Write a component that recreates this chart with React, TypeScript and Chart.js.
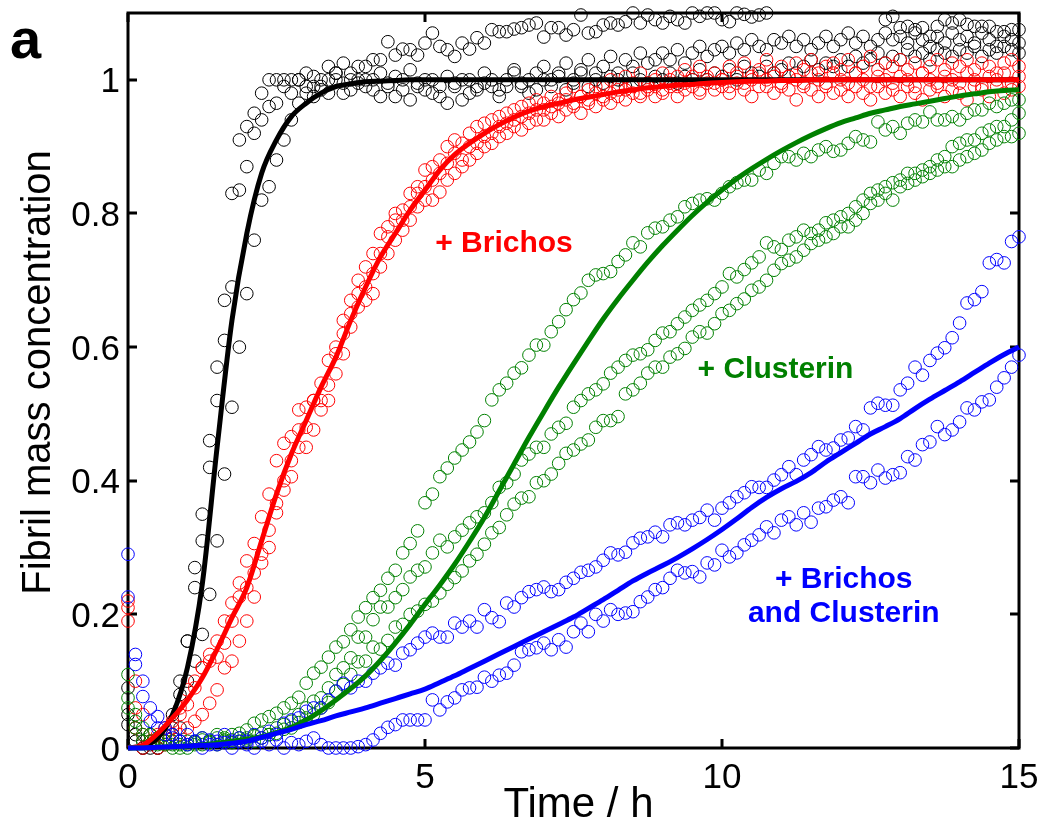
import React, { useEffect, useRef } from "react";
import { Chart, registerables } from "chart.js";

Chart.register(...registerables);

// ---- axes ----
const SAMPLE_STEP_H = 0.125; // measurement interval (h)
const FIT_STEP_H = 0.25; // fitted curve grid (h)
const X_TICKS = [0, 5, 10, 15];
const X_TICK_LABELS = ["0", "5", "10", "15"];
const Y_TICKS = [0, 0.2, 0.4, 0.6, 0.8, 1];
const Y_TICK_LABELS = ["0", "0.2", "0.4", "0.6", "0.8", "1"];
const X_TITLE = "Time / h";
const Y_TITLE = "Fibril mass concentration";
const PANEL_LABEL = "a";

// ---- colours ----
const BLACK = "#000000";
const RED = "#ff0000";
const GREEN = "#008000";
const BLUE = "#0000ff";

// ---- data: no chaperone (black) ----
const BLACK_REP1 = [
  0.09, 0.03, 0.01, 0.0, 0.01, 0.02, 0.05, 0.1,
  0.16, 0.27, 0.35, 0.46, 0.57, 0.67, 0.83, 0.91,
  0.93, 0.95, 0.98, 1.0, 1.0, 0.99, 1.0, 1.0,
  1.01, 0.99, 1.0, 1.02, 1.01, 1.025, 1.01, 1.02,
  1.02, 1.03, 1.03, 1.057, 1.037, 1.046, 1.045, 1.037,
  1.055, 1.07, 1.05, 1.045, 1.035, 1.055, 1.046, 1.063,
  1.055, 1.075, 1.072, 1.072, 1.076, 1.078, 1.082, 1.085,
  1.064, 1.078, 1.078, 1.067, 1.075, 1.097, 1.07, 1.072,
  1.082, 1.085, 1.082, 1.087, 1.1, 1.085, 1.097, 1.09,
  1.085, 1.095, 1.09, 1.085, 1.1, 1.095, 1.1, 1.1,
  1.09, 1.087, 1.1, 1.098, 1.094, 1.097, 1.1, null,
  null, null, null, null, null, null, null, null,
  null, null, null, null, null, null, 1.09, 1.095,
  1.078, 1.08, 1.075, 1.078, 1.065, 1.08, 1.09, 1.085,
  1.09, 1.083, 1.08, 1.08, 1.08, 1.072, 1.072, 1.075,
  1.075,
];
const BLACK_REP2 = [
  0.05, 0.02, 0.0, 0.01, 0.0, 0.02, 0.03, 0.08,
  0.16, 0.24, 0.31, 0.42, 0.52, 0.61, 0.69, 0.835,
  0.87, 0.92, 0.94, 0.96, 0.965, 1.0, 0.98, 1.0,
  0.99, 1.005, 0.985, 1.0, 1.01, 0.98, 1.0, 0.995,
  1.0, 0.985, 1.01, 0.99, 0.975, 1.0, 1.015, 0.99,
  0.985, 1.0, 0.975, 1.005, 0.99, 0.97, 1.0, 0.985,
  1.01, 0.99, 0.975, 1.0, 1.015, 0.995, 0.98, 1.01,
  1.02, 1.0, 1.01, 1.025, 0.995, 1.015, 1.03, 1.01,
  1.02, 1.035, 1.01, 1.03, 1.02, 1.04, 1.025, 1.03,
  1.04, 1.03, 1.045, 1.025, 1.04, 1.05, 1.035, 1.045,
  1.05, 1.04, 1.055, 1.045, 1.06, 1.05, 1.045, 1.06,
  1.055, 1.065, 1.05, 1.06, 1.045, 1.055, 1.065, 1.05,
  1.06, 1.07, 1.055, 1.065, 1.05, 1.06, 1.07, 1.06,
  1.065, 1.055, 1.07, 1.06, 1.05, 1.065, 1.055, 1.07,
  1.06, 1.065, 1.055, 1.07, 1.06, 1.05, 1.065, 1.06,
  1.055,
];
const BLACK_REP3 = [
  0.035, 0.01, 0.0, 0.005, 0.0, 0.01, 0.02, 0.03,
  0.1, 0.13, 0.17, 0.23, 0.31, 0.41, 0.51, 0.6,
  0.68, 0.76, 0.82, 0.84, 0.88, 0.91, 0.94, 0.965,
  0.98, 0.975, 0.99, 0.98, 1.0, 0.995, 0.985, 1.0,
  0.99, 1.0, 0.975, 0.995, 1.005, 0.985, 0.97, 0.995,
  1.0, 0.98, 0.99, 0.965, 0.995, 1.0, 0.98, 0.99,
  0.995, 1.0, 0.985, 0.99, 1.01, 0.99, 1.0, 0.985,
  1.0, 0.99, 1.005, 0.985, 1.0, 1.01, 0.99, 1.0,
  0.995, 1.005, 1.0, 0.99, 1.01, 1.0, 0.995, 1.005,
  1.0, 1.01, 0.995, 1.005, 1.0, 1.015, 1.0, 1.01,
  1.005, 1.015, 1.0, 1.02, 1.01, 1.005, 1.02, 1.01,
  1.015, 1.025, 1.01, 1.02, 1.03, 1.015, 1.025, 1.02,
  1.03, 1.02, 1.035, 1.025, 1.03, 1.04, 1.025, 1.035,
  1.03, 1.045, 1.035, 1.04, 1.03, 1.045, 1.04, 1.035,
  1.045, 1.04, 1.05, 1.035, 1.045, 1.04, 1.05, 1.045,
  1.04,
];
const BLACK_FIT = [
  0, 0.003, 0.015, 0.05, 0.12, 0.245, 0.45, 0.64,
  0.77, 0.86, 0.91, 0.945, 0.965, 0.98, 0.99, 0.994,
  0.997, 0.998, 0.999, 1, 1, 1, 1, 1,
  1, 1, 1, 1, 1, 1, 1, 1,
  1, 1, 1, 1, 1, 1, 1, 1,
  1, 1, 1, 1, 1, 1, 1, 1,
  1, 1, 1, 1, 1, 1, 1, 1,
  1, 1, 1, 1, 1,
];

// ---- data: + Brichos (red) ----
const RED_REP1 = [
  0.22, 0.1, 0.05, 0.02, 0.01, 0.03, 0.04, 0.06,
  0.087, 0.1, 0.12, 0.14, 0.16, 0.19, 0.217, 0.247,
  0.28, 0.306, 0.346, 0.38, 0.43, 0.456, 0.466, 0.506,
  0.51, 0.52, 0.546, 0.58, 0.6, 0.64, 0.67, 0.7,
  0.72, 0.74, 0.77, 0.78, 0.8, 0.805, 0.83, 0.84,
  0.865, 0.87, 0.88, 0.9, 0.91, 0.905, 0.92, 0.93,
  0.935, 0.94, 0.945, 0.95, 0.955, 0.96, 0.965, 0.97,
  0.965, 0.975, 0.97, 0.98, 0.99, 0.975, 0.985, 0.99,
  0.99, 1.0, 0.985, 1.005, 0.995, 1.01, 0.99, 1.0,
  1.01, 0.995, 1.005, 1.015, 1.0, 1.02, 1.005, 1.01,
  1.0, 1.02, 1.01, 1.025, 1.005, 1.015, 1.03, 1.01,
  1.02, 1.005, 1.025, 1.015, 1.03, 1.01, 1.02, 1.025,
  1.015, 1.03, 1.01, 1.02, 1.035, 1.015, 1.025, 1.02,
  1.03, 1.015, 1.025, 1.01, 1.02, 1.03, 1.015, 1.025,
  1.02, 1.03, 1.015, 1.025, 1.02, 1.01, 1.025, 1.03,
  1.02,
];
const RED_REP2 = [
  0.21, 0.06, 0.02, 0.01, 0.02, 0.01, 0.03, 0.05,
  0.065, 0.09, 0.12, 0.13, 0.136, 0.157, 0.19, 0.226,
  0.24, 0.262, 0.29, 0.326, 0.366, 0.4, 0.43, 0.476,
  0.48, 0.52, 0.52, 0.543, 0.59, 0.62, 0.65, 0.68,
  0.69, 0.71, 0.74, 0.765, 0.79, 0.79, 0.81, 0.83,
  0.84, 0.85, 0.86, 0.875, 0.89, 0.88, 0.9, 0.905,
  0.915, 0.92, 0.93, 0.935, 0.94, 0.945, 0.95, 0.955,
  0.955, 0.96, 0.965, 0.97, 0.965, 0.975, 0.97, 0.98,
  0.975, 0.98, 0.99, 0.985, 0.99, 0.98, 0.995, 0.99,
  0.985, 1.0, 0.99, 0.995, 1.005, 0.985, 1.0, 0.995,
  1.0, 0.99, 1.005, 0.995, 1.0, 1.01, 0.99, 1.005,
  0.995, 1.005, 1.0, 0.99, 1.01, 1.0, 0.995, 1.01,
  1.0, 0.995, 1.01, 1.0, 0.99, 1.005, 1.0, 0.995,
  1.005, 1.0, 0.99, 1.01, 1.0, 0.995, 1.005, 1.0,
  0.995, 1.01, 1.0, 0.99, 1.005, 1.0, 1.01, 0.995,
  1.005,
];
const RED_REP3 = [
  0.19, 0.03, 0.0, 0.01, 0.0, 0.005, 0.01, 0.02,
  0.03, 0.04, 0.05, 0.067, 0.087, 0.12, 0.13, 0.16,
  0.19, 0.226, 0.277, 0.3, 0.352, 0.386, 0.406, 0.45,
  0.45, 0.476, 0.506, 0.52, 0.56, 0.59, 0.63, 0.66,
  0.67, 0.68, 0.72, 0.74, 0.76, 0.775, 0.79, 0.81,
  0.82, 0.82, 0.832, 0.85, 0.86, 0.87, 0.88, 0.89,
  0.9, 0.905, 0.915, 0.92, 0.93, 0.925, 0.935, 0.94,
  0.94, 0.95, 0.945, 0.955, 0.96, 0.95, 0.965, 0.96,
  0.97, 0.965, 0.975, 0.97, 0.98, 0.975, 0.985, 0.975,
  0.98, 0.99, 0.975, 0.985, 0.99, 0.98, 0.995, 0.985,
  0.99, 0.98, 0.995, 0.985, 0.975, 0.99, 1.0, 0.98,
  0.99, 0.985, 0.97, 0.995, 0.985, 0.975, 0.99, 0.98,
  0.985, 0.975, 0.99, 0.98, 0.97, 0.99, 0.98, 0.985,
  0.975, 0.99, 0.98, 0.97, 0.985, 0.99, 0.975, 0.985,
  0.98, 0.97, 0.99, 0.985, 0.975, 0.99, 0.98, 0.985,
  0.99,
];
const RED_FIT = [
  0, 0.004, 0.022, 0.045, 0.072, 0.105, 0.148, 0.195,
  0.24, 0.31, 0.38, 0.44, 0.49, 0.54, 0.585, 0.64,
  0.69, 0.735, 0.77, 0.805, 0.835, 0.865, 0.888, 0.905,
  0.92, 0.933, 0.944, 0.953, 0.96, 0.965, 0.97, 0.974,
  0.978, 0.982, 0.985, 0.988, 0.99, 0.992, 0.993, 0.995,
  0.996, 0.997, 0.998, 0.998, 0.999, 0.999, 1, 1,
  1, 1, 1, 1, 1, 1, 1, 1,
  1, 1, 1, 1, 1,
];

// ---- data: + Clusterin (green) ----
const GREEN_REP1 = [
  0.11, 0.05, 0.03, 0.02, 0.01, 0.02, 0.005, 0.01,
  0.005, 0.01, 0.015, 0.01, 0.02, 0.015, 0.02, 0.022,
  0.027, 0.037, 0.042, 0.047, 0.052, 0.06, 0.067, 0.076,
  0.097, 0.112, 0.121, 0.136, 0.151, 0.159, 0.177, 0.196,
  0.21, 0.225, 0.236, 0.254, 0.266, 0.292, 0.306, 0.325,
  0.367, 0.38, 0.406, 0.419, 0.434, 0.446, 0.458, 0.473,
  0.49, 0.521, 0.536, 0.546, 0.561, 0.569, 0.588, 0.603,
  0.603, 0.623, 0.638, 0.656, 0.671, 0.681, 0.7, 0.708,
  0.71, 0.713, 0.728, 0.738, 0.756, 0.75, 0.771, 0.778,
  0.78, 0.79, 0.795, 0.81, 0.815, 0.82, 0.822, 0.82,
  0.83, 0.84, 0.846, 0.85, 0.85, 0.865, 0.86, 0.875,
  0.885, 0.885, 0.88, 0.89, 0.885, 0.895, 0.9, 0.893,
  0.895, 0.905, 0.915, 0.91, 0.907, 0.937, 0.925, 0.93,
  0.92, 0.935, 0.94, 0.937, 0.952, 0.94, 0.94, 0.945,
  0.94, 0.95, 0.955, 0.955, 0.965, 0.96, 0.965, 0.97,
  0.97,
];
const GREEN_REP2 = [
  0.075, 0.04, 0.02, 0.01, 0.015, 0.005, 0.01, 0.0,
  0.01, 0.005, 0.012, 0.008, 0.015, 0.01, 0.012, 0.015,
  0.015, 0.018, 0.022, 0.02, 0.03, 0.035, 0.04, 0.05,
  0.06, 0.07, 0.075, 0.09, 0.11, 0.12, 0.135, 0.166,
  0.166, 0.192, 0.211, 0.211, 0.225, 0.237, 0.256, 0.266,
  0.271, 0.292, 0.311, 0.301, 0.316, 0.326, 0.337, 0.346,
  0.352, 0.367, 0.39, 0.397, 0.41, 0.431, 0.44, 0.45,
  0.45, 0.47, 0.48, 0.486, 0.51, 0.52, 0.53, 0.536,
  0.545, 0.561, 0.57, 0.58, 0.588, 0.59, 0.596, 0.61,
  0.621, 0.623, 0.635, 0.645, 0.655, 0.663, 0.67, 0.68,
  0.69, 0.71, 0.705, 0.716, 0.726, 0.735, 0.756, 0.75,
  0.746, 0.76, 0.765, 0.775, 0.77, 0.775, 0.786, 0.79,
  0.795, 0.8, 0.81, 0.82, 0.83, 0.835, 0.84, 0.846,
  0.85, 0.86, 0.86, 0.865, 0.87, 0.88, 0.885, 0.9,
  0.905, 0.91, 0.91, 0.92, 0.925, 0.93, 0.93, 0.94,
  0.95,
];
const GREEN_REP3 = [
  0.06, 0.03, 0.01, 0.02, 0.005, 0.01, 0.0, 0.005,
  0.0, 0.008, 0.005, 0.01, 0.005, 0.012, 0.008, 0.01,
  0.012, 0.01, 0.015, 0.02, 0.022, 0.028, 0.03, 0.038,
  0.045, 0.05, 0.06, 0.068, 0.085, 0.095, 0.11, 0.129,
  0.13, 0.151, 0.148, 0.161, 0.181, 0.185, 0.2, 0.205,
  0.215, 0.22, 0.232, 0.245, 0.255, 0.265, 0.28, 0.29,
  0.305, 0.322, 0.33, 0.349, 0.365, 0.374, 0.376, 0.397,
  0.4, 0.41, 0.426, 0.441, 0.446, 0.455, 0.461, 0.48,
  0.49, 0.49, 0.496, 0.53, 0.536, 0.546, 0.561, 0.57,
  0.57, 0.585, 0.59, 0.598, 0.615, 0.623, 0.621, 0.635,
  0.65, 0.655, 0.665, 0.672, 0.685, 0.69, 0.7, 0.715,
  0.725, 0.73, 0.735, 0.745, 0.755, 0.76, 0.765, 0.77,
  0.78, 0.78, 0.79, 0.8, 0.815, 0.82, 0.83, 0.82,
  0.84, 0.845, 0.85, 0.855, 0.86, 0.865, 0.87, 0.87,
  0.88, 0.885, 0.89, 0.895, 0.905, 0.91, 0.915, 0.915,
  0.92,
];
const GREEN_FIT = [
  0, 0, 0.001, 0.002, 0.003, 0.005, 0.007, 0.01,
  0.013, 0.017, 0.023, 0.031, 0.042, 0.056, 0.072, 0.089,
  0.108, 0.131, 0.157, 0.185, 0.215, 0.244, 0.275, 0.309,
  0.345, 0.385, 0.425, 0.465, 0.503, 0.54, 0.575, 0.609,
  0.642, 0.672, 0.7, 0.727, 0.752, 0.775, 0.797, 0.817,
  0.835, 0.852, 0.867, 0.881, 0.894, 0.906, 0.917, 0.927,
  0.936, 0.943, 0.95, 0.955, 0.96, 0.964, 0.968, 0.972,
  0.976, 0.979, 0.982, 0.984, 0.985,
];

// ---- data: + Brichos and Clusterin (blue) ----
const BLUE_REP1 = [
  0.29, 0.14, 0.1, 0.06, 0.047, 0.03, 0.02, 0.01,
  0.02, 0.01, 0.015, 0.005, 0.01, 0.02, 0.01, 0.015,
  0.01, 0.02, 0.015, 0.025, 0.02, 0.037, 0.042, 0.045,
  0.055, 0.06, 0.06, 0.072, 0.085, 0.097, 0.09, 0.1,
  0.1, 0.112, 0.12, 0.127, 0.124, 0.142, 0.147, 0.157,
  0.166, 0.172, 0.166, 0.166, 0.187, 0.181, 0.19, 0.181,
  0.207, 0.195, 0.189, 0.217, 0.211, 0.225, 0.234, 0.237,
  0.241, 0.234, 0.237, 0.248, 0.254, 0.263, 0.266, 0.271,
  0.281, 0.292, 0.289, 0.293, 0.307, 0.314, 0.316, 0.323,
  0.316, 0.334, 0.337, 0.334, 0.341, 0.345, 0.356, 0.341,
  0.359, 0.367, 0.376, 0.382, 0.391, 0.39, 0.39, 0.401,
  0.409, 0.421, 0.409, 0.431, 0.439, 0.451, 0.446, 0.449,
  0.461, 0.464, 0.481, 0.476, 0.509, 0.516, 0.513, 0.513,
  0.536, 0.546, 0.57, 0.558, 0.58, 0.591, 0.599, 0.614,
  0.636, 0.666, 0.671, 0.683, 0.726, 0.731, 0.726, 0.758,
  0.765,
];
const BLUE_REP2 = [
  0.226, 0.125, 0.077, 0.04, 0.03, 0.02, 0.015, 0.01,
  0.005, 0.01, 0.0, 0.012, 0.005, 0.008, 0.0, 0.01,
  0.005, 0.0, 0.01, 0.005, 0.012, 0.0, 0.008, 0.005,
  0.01, 0.015, 0.005, 0.0, 0.0, 0.0, 0.0, 0.002,
  0.005, 0.012, 0.022, 0.031, 0.035, 0.042, 0.042, 0.042,
  0.042, 0.072, 0.057, 0.069, 0.075, 0.087, 0.09, 0.091,
  0.106, 0.1, 0.109, 0.112, 0.124, 0.144, 0.147, 0.15,
  0.157, 0.147, 0.162, 0.151, 0.174, 0.187, 0.174, 0.2,
  0.19, 0.207, 0.2, 0.202, 0.204, 0.219, 0.226, 0.237,
  0.24, 0.254, 0.266, 0.262, 0.264, 0.256, 0.277, 0.274,
  0.296, 0.286, 0.292, 0.304, 0.311, 0.319, 0.331, 0.322,
  0.341, 0.346, 0.334, 0.352, 0.338, 0.359, 0.361, 0.371,
  0.376, 0.367, 0.406, 0.406, 0.397, 0.416, 0.404, 0.409,
  0.412, 0.436, 0.431, 0.454, 0.458, 0.481, 0.469, 0.476,
  0.488, 0.509, 0.506, 0.518, 0.521, 0.54, 0.554, 0.57,
  0.588,
];
const BLUE_FIT = [
  0, 0, 0.001, 0.002, 0.003, 0.004, 0.005, 0.007,
  0.01, 0.016, 0.022, 0.028, 0.035, 0.041, 0.048, 0.054,
  0.06, 0.067, 0.074, 0.081, 0.088, 0.098, 0.108, 0.119,
  0.13, 0.141, 0.152, 0.163, 0.174, 0.185, 0.196, 0.209,
  0.222, 0.236, 0.25, 0.262, 0.273, 0.285, 0.298, 0.312,
  0.327, 0.343, 0.36, 0.375, 0.388, 0.399, 0.412, 0.428,
  0.442, 0.456, 0.47, 0.481, 0.493, 0.508, 0.522, 0.535,
  0.548, 0.562, 0.576, 0.589, 0.6,
];

// ---- in-plot labels (x in h, y in data units of the baseline) ----
const ANNOTATIONS = [
  { lines: ["+ Brichos"], color: RED, x: 6.33, y: 0.743 },
  { lines: ["+ Clusterin"], color: GREEN, x: 10.9, y: 0.554 },
  { lines: ["+ Brichos", "and Clusterin"], color: BLUE, x: 12.05, y: 0.24 },
];

const FONT = "'Liberation Sans', Arial, Helvetica, sans-serif";

function toPoints(values: (number | null)[], step: number) {
  const pts: { x: number; y: number }[] = [];
  values.forEach((v, i) => {
    if (v !== null) pts.push({ x: i * step, y: v });
  });
  return pts;
}

const framePlugin = {
  id: "matlabFrame",
  beforeDatasetsDraw(chart: any) {
    const { ctx, chartArea: a, scales } = chart;
    const xs = scales.x;
    const ys = scales.y;
    ctx.save();
    ctx.strokeStyle = "#000";
    ctx.lineWidth = 3;
    ctx.strokeRect(a.left, a.top, a.right - a.left, a.bottom - a.top);
    const L = 9;
    ctx.beginPath();
    X_TICKS.forEach((v) => {
      const px = Math.round(xs.getPixelForValue(v));
      ctx.moveTo(px, a.bottom);
      ctx.lineTo(px, a.bottom - L);
      ctx.moveTo(px, a.top);
      ctx.lineTo(px, a.top + L);
    });
    Y_TICKS.forEach((v) => {
      const py = Math.round(ys.getPixelForValue(v));
      ctx.moveTo(a.left, py);
      ctx.lineTo(a.left + L, py);
      ctx.moveTo(a.right, py);
      ctx.lineTo(a.right - L, py);
    });
    ctx.stroke();
    ctx.restore();
  },
  afterDraw(chart: any) {
    const { ctx, chartArea: a, scales } = chart;
    const xs = scales.x;
    const ys = scales.y;
    ctx.save();
    ctx.fillStyle = "#000";
    ctx.font = `35px ${FONT}`;
    ctx.textAlign = "center";
    ctx.textBaseline = "alphabetic";
    X_TICKS.forEach((v, i) => {
      ctx.fillText(X_TICK_LABELS[i], xs.getPixelForValue(v), a.bottom + 40);
    });
    ctx.textAlign = "right";
    Y_TICKS.forEach((v, i) => {
      ctx.fillText(Y_TICK_LABELS[i], a.left - 8, ys.getPixelForValue(v) + 12.5);
    });
    // axis titles
    ctx.font = `42px ${FONT}`;
    ctx.textAlign = "center";
    ctx.fillText(X_TITLE, (a.left + a.right) / 2 + 5, a.bottom + 69);
    ctx.save();
    ctx.font = `40px ${FONT}`;
    ctx.translate(a.left - 78, (a.top + a.bottom) / 2 - 8);
    ctx.rotate(-Math.PI / 2);
    ctx.fillText(Y_TITLE, 0, 0);
    ctx.restore();
    // panel label
    ctx.font = `bold 56px ${FONT}`;
    ctx.textAlign = "left";
    ctx.fillText(PANEL_LABEL, 10, 58);
    // annotations
    ctx.font = `bold 30px ${FONT}`;
    ctx.textAlign = "center";
    ANNOTATIONS.forEach((an) => {
      ctx.fillStyle = an.color;
      const px = xs.getPixelForValue(an.x);
      const py = ys.getPixelForValue(an.y);
      an.lines.forEach((line, k) => ctx.fillText(line, px, py + k * 34));
    });
    ctx.restore();
  },
};

function scatterSet(values: (number | null)[], color: string, order: number) {
  return {
    type: "scatter" as const,
    data: toPoints(values, SAMPLE_STEP_H),
    showLine: false,
    pointRadius: 6.3,
    pointBorderWidth: 1,
    pointStyle: "circle",
    borderColor: color,
    pointBorderColor: color,
    backgroundColor: "rgba(0,0,0,0)",
    pointBackgroundColor: "rgba(0,0,0,0)",
    clip: false,
    order,
  };
}

function fitSet(values: number[], color: string, order: number) {
  return {
    type: "line" as const,
    data: toPoints(values, FIT_STEP_H),
    borderColor: color,
    borderWidth: 5,
    pointRadius: 0,
    fill: false,
    cubicInterpolationMode: "monotone" as const,
    borderJoinStyle: "round" as const,
    clip: false,
    order,
  };
}

export default function App() {
  const ref = useRef<HTMLCanvasElement | null>(null);
  useEffect(() => {
    if (!ref.current) return;
    const chart = new Chart(ref.current, {
      type: "scatter",
      data: {
        datasets: [
          fitSet(BLUE_FIT, BLUE, 1),
          fitSet(GREEN_FIT, GREEN, 2),
          fitSet(RED_FIT, RED, 3),
          fitSet(BLACK_FIT, BLACK, 4),
          scatterSet(BLUE_REP1, BLUE, 5),
          scatterSet(BLUE_REP2, BLUE, 5),
          scatterSet(GREEN_REP1, GREEN, 6),
          scatterSet(GREEN_REP2, GREEN, 6),
          scatterSet(GREEN_REP3, GREEN, 6),
          scatterSet(RED_REP1, RED, 7),
          scatterSet(RED_REP2, RED, 7),
          scatterSet(RED_REP3, RED, 7),
          scatterSet(BLACK_REP1, BLACK, 8),
          scatterSet(BLACK_REP2, BLACK, 8),
          scatterSet(BLACK_REP3, BLACK, 8),
        ] as any,
      },
      options: {
        responsive: false,
        animation: false,
        devicePixelRatio: 1,
        events: [],
        layout: { padding: { left: 128, right: 25, top: 13, bottom: 72 } },
        scales: {
          x: { type: "linear", min: 0, max: 15, display: false },
          y: { type: "linear", min: 0, max: 1.1, display: false },
        },
        plugins: { legend: { display: false }, tooltip: { enabled: false } },
      },
      plugins: [framePlugin],
    });
    return () => chart.destroy();
  }, []);
  return (
    <div style={{ position: "absolute", left: 0, top: 0, width: 1044, height: 820, background: "#fff" }}>
      <canvas ref={ref} width={1044} height={820} style={{ display: "block" }} />
    </div>
  );
}
